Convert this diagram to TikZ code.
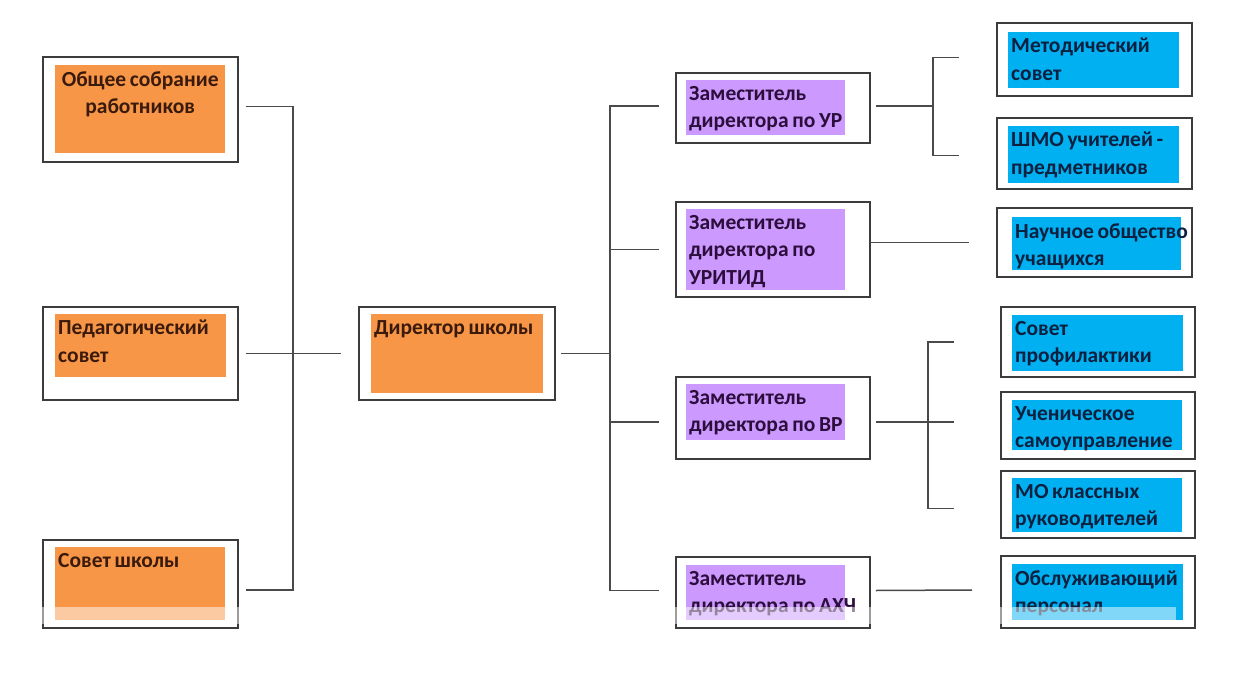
\documentclass[tikz,border=0pt]{standalone}
\usepackage{fontspec}
\setmainfont{Carlito}
\usetikzlibrary{positioning,fit}

\definecolor{fillor}{HTML}{F79646}
\definecolor{textor}{HTML}{3A1A0C}
\definecolor{fillpu}{HTML}{CC99FF}
\definecolor{textpu}{HTML}{2C0E3C}
\definecolor{fillbl}{HTML}{00B0F0}
\definecolor{textbl}{HTML}{0C2040}
\definecolor{boxgray}{HTML}{3C3C3C}
\definecolor{linegray}{HTML}{4A4A4A}

\newcommand{\tightsp}{\spaceskip=3.7pt plus 1pt minus 0.5pt\relax}

\tikzset{
  outerbox/.style={draw=boxgray, line width=1.6pt, inner sep=0pt},
  conn/.style={draw=linegray, line width=1.5pt},
  boxtext/.style={font=\fontsize{21.5}{27.5}\selectfont\bfseries, execute at begin node=\tightsp, inner xsep=3pt, inner ysep=6pt, anchor=north west},
}

\begin{document}
\begin{tikzpicture}[x=1pt,y=-1pt]
  \useasboundingbox (0,0) rectangle (1244,679);
  % boxes: name / outer box / inner fill / colour / alignment / text width / text
  \foreach \nm/\xa/\ya/\xb/\yb/\ia/\ib/\ic/\id/\col/\al/\tw/\txt in {
      sobr/43/57/238/162/55/65/225/153/or/center/164/{Общее собрание\\работников},
      ped/43/307/238/400/55/314/226/377/or/left/210/{Педагогический\\совет},
      sovsh/43/540/238/628/55/547/225/620/or/left/210/{Совет школы},
      dir/359/307/555/400/371/314/543/393/or/left/210/{Директор школы},
      zur/676/73/870/143/686/80/845/135/pu/left/210/{Заместитель\\директора по УР},
      zurit/676/202/870/297/686/209/845/290/pu/left/210/{Заместитель\\директора по\\УРИТИД},
      zvr/676/377/870/459/686/384/845/440/pu/left/210/{Заместитель\\директора по ВР},
      zahch/676/557/870/628/686/565/845/620/pu/left/210/{Заместитель\\директора по АХЧ},
      met/997/23/1192/96/1008/32/1179/88/bl/left/210/{Методический\\совет},
      shmo/997/118/1192/189/1008/126/1179/183/bl/left/210/{ШМО учителей -\\предметников},
      nauch/997/208/1192/277/1012/217/1181/270/bl/left/210/{Научное общество\\учащихся},
      sovpr/1001/307/1195/377/1012/315/1183/371/bl/left/210/{Совет\\профилактики},
      uchsam/1001/392/1195/459/1012/400/1182/450/bl/left/210/{Ученическое\\самоуправление},
      mokl/1001/471/1195/538/1012/478/1182/532/bl/left/210/{МО классных\\руководителей},
      obsl/1001/556/1195/628/1012/564/1183/620/bl/left/210/{Обслуживающий\\персонал}}{
    \node[outerbox, fit={(\xa,\ya) (\xb,\yb)}] (\nm) {};
    \fill[fill\col] (\ia,\ib) rectangle (\ic,\id);
    \node[boxtext, text=text\col, text width=\tw pt, align=\al] (\nm-t) at (\ia,\ib) {\txt};
  }

  % left side to director
  \coordinate (lbus) at (293,353.5);
  \draw[conn] ([xshift=7pt,yshift=3pt]sobr.east) -| (lbus) |- ([xshift=7pt,yshift=-6pt]sovsh.east);
  \draw[conn] ([xshift=7pt]ped.east) -- ([xshift=-17pt]dir.west);

  % director to deputies
  \coordinate (rbus) at (610,353.5);
  \draw[conn] ([xshift=5pt]dir.east) -- (rbus);
  \draw[conn] ([xshift=-16pt,yshift=2pt]zur.west) -| (rbus) |- ([xshift=-16pt,yshift=2pt]zahch.west);
  \draw[conn] (rbus |- zurit.west) -- ([xshift=-16pt]zurit.west);
  \draw[conn] ([yshift=-4pt]rbus |- zvr.west) -- ([xshift=-16pt,yshift=-4pt]zvr.west);

  % deputies to councils
  \draw[conn] ([xshift=5pt,yshift=2pt]zur.east) -- ([xshift=62pt,yshift=2pt]zur.east);
  \draw[conn] ([xshift=-37pt,yshift=2pt]met.west) -| ([xshift=62pt]zur.east) |- ([xshift=-37pt,yshift=-2pt]shmo.west);
  \draw[conn] (zurit.east |- nauch.west) -- ([xshift=-27pt]nauch.west);
  \draw[conn] ([xshift=5pt,yshift=-4pt]zvr.east) -- ([xshift=-46pt,yshift=-4pt]zvr.east -| uchsam.west);
  \draw[conn] ([xshift=-46pt]sovpr.west) -| ([xshift=57pt]zvr.east) |- ([xshift=-46pt,yshift=-4pt]mokl.west);
  \draw[conn] ([xshift=5pt,yshift=2pt]zahch.east) -- ([xshift=-28pt,yshift=2pt]obsl.west);

  % faded strip along the bottom
  \fill[white, opacity=0.5] (40,607) rectangle (1176,624);
\end{tikzpicture}
\end{document}
